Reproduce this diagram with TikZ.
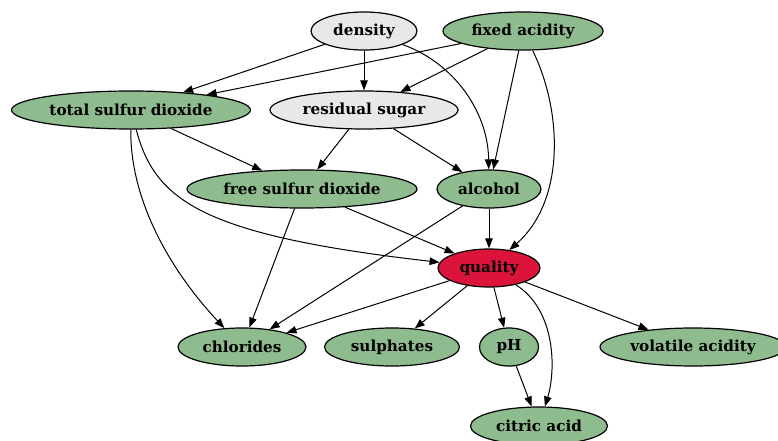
\documentclass[tikz,border=0pt]{standalone}
\usepackage{fontspec}
\setmainfont{DejaVu Serif}
\usepackage{tikz}
\usetikzlibrary{arrows.meta,shapes.geometric}
\definecolor{featgreen}{HTML}{8FBC8F}
\definecolor{featgrey}{HTML}{E8E8E8}
\definecolor{targetred}{HTML}{DC143C}

\begin{document}
\begin{tikzpicture}[x=1pt, y=-1pt,
    var/.style={ellipse, draw, line width=1.2pt, inner sep=0pt, minimum height=38pt,
      font=\fontsize{15.2}{17}\selectfont\bfseries, fill=featgreen},
    edge/.style={-{Triangle[length=10pt,width=7.5pt]}, line width=1pt}]
  \useasboundingbox (0,0) rectangle (778,441);
  % nodes
  \node[var, fill=featgrey, minimum width=106pt] (density) at (364,31) {density};
  \node[var, minimum width=160pt] (fixed) at (523,31) {fixed acidity};
  \node[var, minimum width=239pt] (tsd) at (131,110) {total sulfur dioxide};
  \node[var, fill=featgrey, minimum width=188pt] (sugar) at (364,110) {residual sugar};
  \node[var, minimum width=230pt] (fsd) at (302,189) {free sulfur dioxide};
  \node[var, minimum width=104pt] (alcohol) at (489,189) {alcohol};
  \node[var, fill=targetred, minimum width=102pt] (quality) at (489,268) {quality};
  \node[var, minimum width=128pt] (chlorides) at (242,347) {chlorides};
  \node[var, minimum width=135pt] (sulphates) at (392,347) {sulphates};
  \node[var, minimum width=59pt] (ph) at (509,347) {pH};
  \node[var, minimum width=186pt] (volatile) at (693,347) {volatile acidity};
  \node[var, minimum width=137pt] (citric) at (539,426) {citric acid};
  % straight edges
  \foreach \a/\b in {density/tsd, density/sugar, fixed/tsd, fixed/sugar, fixed/alcohol,
      tsd/fsd, sugar/fsd, sugar/alcohol, fsd/quality, fsd/chlorides,
      alcohol/quality, alcohol/chlorides, quality/chlorides, quality/sulphates,
      quality/ph, quality/volatile, ph/citric}
    \draw[edge] (\a) -- (\b);
  % curved edges
  \draw[edge] (density) .. controls (452,62) and (488,110) .. (alcohol);
  \draw[edge] (fixed) .. controls (562,110) and (566,200) .. (quality);
  \draw[edge] (tsd) .. controls (130,200) and (170,270) .. (chlorides);
  \draw[edge] (tsd) .. controls (155,200) and (200,235) .. (quality);
  \draw[edge] (quality) .. controls (556,310) and (556,370) .. (citric);
\end{tikzpicture}
\end{document}
